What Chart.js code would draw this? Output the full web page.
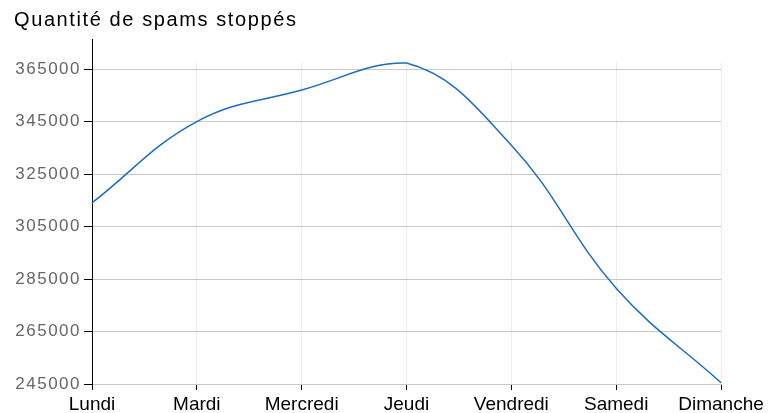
<!DOCTYPE html>
<html lang="fr">
<head>
    <meta charset="UTF-8">
    <title>Quantité de spams stoppés</title>
    <script src="https://cdn.jsdelivr.net/npm/chart.js"></script>
    <style>
        html, body { margin: 0; padding: 0; background: #fff; }
        #wrap { width: 774px; height: 413px; }
    </style>
</head>
<body>
    <div id="wrap"><canvas id="spamChart"></canvas></div>

    <script>
        const jours = ['Lundi', 'Mardi', 'Mercredi', 'Jeudi', 'Vendredi', 'Samedi', 'Dimanche'];
        const spams = [314000, 345000, 357000, 367300, 336000, 281500, 245500];
        const yTicks = [245000, 265000, 285000, 305000, 325000, 345000, 365000];

        // title and y labels are a bit more spaced out than Liberation Sans
        const TITLE_SPACING = '1.6px';
        const spacing = {
            id: 'spacing',
            beforeDraw(chart) { chart.ctx.letterSpacing = TITLE_SPACING; }
        };

        // wrap a scale's draw so its labels get their own letter spacing
        function spaced(scale, px) {
            if (scale._spaced) return;
            const draw = scale.draw.bind(scale);
            scale.draw = area => {
                scale.ctx.letterSpacing = px;
                draw(area);
                scale.ctx.letterSpacing = TITLE_SPACING;
            };
            scale._spaced = true;
        }

        // the y axis line goes a little above the plot area
        const axisExtra = {
            id: 'axisExtra',
            afterDraw(chart) {
                const ctx = chart.ctx;
                const a = chart.chartArea;
                ctx.save();
                ctx.strokeStyle = '#000';
                ctx.lineWidth = 1;
                ctx.beginPath();
                ctx.moveTo(a.left + 0.5, a.top - 23);
                ctx.lineTo(a.left + 0.5, a.top);
                ctx.stroke();
                ctx.restore();
            }
        };

        const ctx = document.getElementById('spamChart').getContext('2d');
        new Chart(ctx, {
            type: 'line',
            data: {
                labels: jours,
                datasets: [{
                    label: 'Spams stoppés',
                    data: spams,
                    borderColor: '#1c6cc0',
                    borderWidth: 1.5,
                    pointRadius: 0,
                    tension: 0.4,
                    fill: false,
                    clip: false
                }]
            },
            options: {
                responsive: true,
                maintainAspectRatio: false,
                animation: false,
                layout: { padding: { left: 14, right: 53, top: 0, bottom: 0 } },
                plugins: {
                    legend: { display: false },
                    tooltip: { enabled: false },
                    title: {
                        display: true,
                        text: 'Quantité de spams stoppés',
                        align: 'start',
                        color: '#000',
                        font: { family: 'Liberation Sans', size: 20, weight: 'normal' },
                        padding: { top: 8, bottom: 30 }
                    }
                },
                scales: {
                    x: {
                        offset: false,
                        grid: { color: '#ececec', tickColor: '#000', tickLength: 6 },
                        border: { color: '#b5b5b5' },
                        ticks: {
                            color: '#000',
                            maxRotation: 0,
                            autoSkip: false,
                            padding: 3,
                            font: { family: 'Liberation Sans', size: 19 }
                        },
                        afterFit: s => { s.height = 29; spaced(s, '0px'); }
                    },
                    y: {
                        min: 245000,
                        max: 367700,
                        grid: { color: '#c8c8c8', tickColor: '#000', tickLength: 8 },
                        border: { color: '#000' },
                        ticks: {
                            color: '#666',
                            padding: 3,
                            font: { family: 'Liberation Sans', size: 17 },
                            callback: v => String(v)
                        },
                        afterBuildTicks: s => { s.ticks = yTicks.map(v => ({ value: v })); },
                        afterFit: s => { s.width = 78; spaced(s, '1.5px'); }
                    }
                }
            },
            plugins: [spacing, axisExtra]
        });
    </script>
</body>
</html>
